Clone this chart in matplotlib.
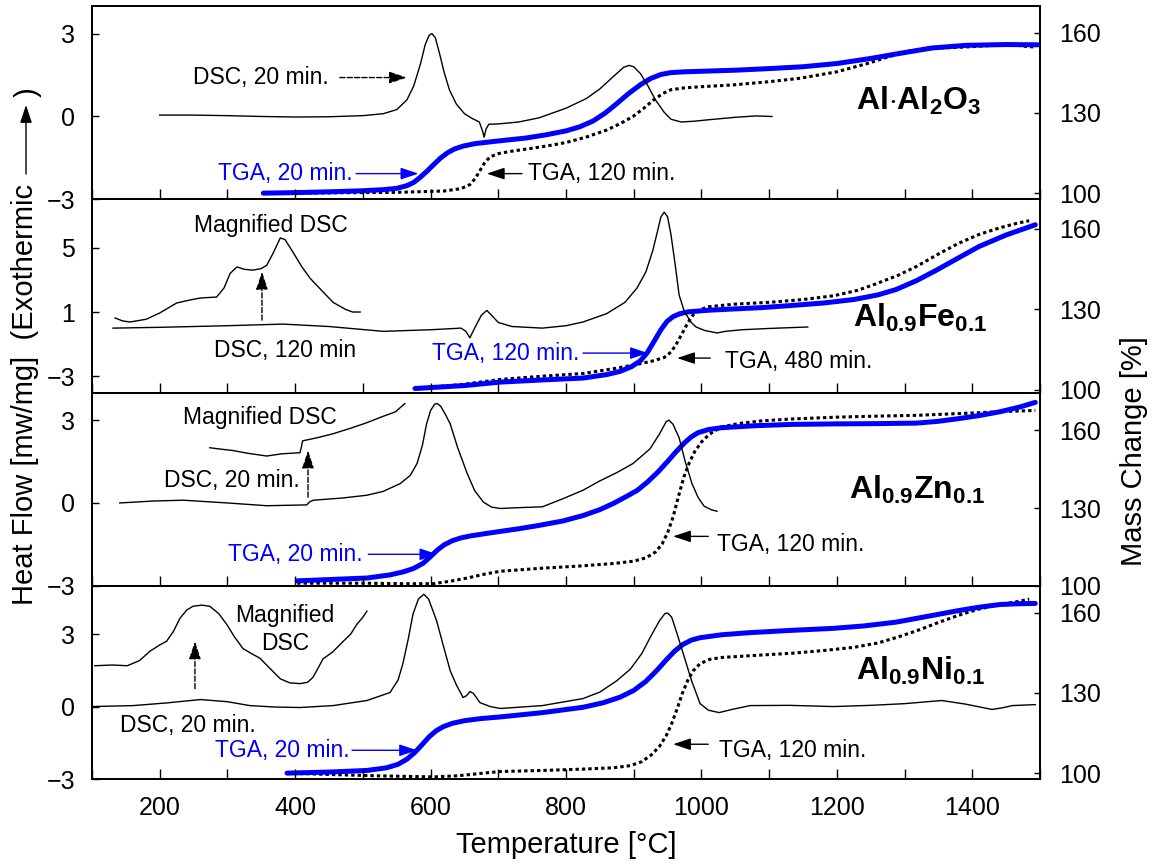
import matplotlib
matplotlib.use('Agg')
import matplotlib.pyplot as plt
from matplotlib.ticker import MultipleLocator

plt.rcParams['font.family'] = ['Liberation Sans', 'DejaVu Sans']
plt.rcParams['mathtext.fontset'] = 'custom'
plt.rcParams['mathtext.rm'] = 'Liberation Sans'
plt.rcParams['mathtext.bf'] = 'Liberation Sans:bold'

# ---- panel 1: Al.Al2O3 ----
t_dsc1 = [200, 250, 300, 350, 400, 450, 500, 530, 550, 565, 575, 585, 592, 598, 602, 607, 613, 620, 628,
          638, 650, 662, 672, 677, 679, 682, 686, 700, 730, 760, 800, 830, 850, 870, 885, 893, 900, 910,
          920, 932, 945, 955, 970, 990, 1010, 1050, 1080, 1104]
hf_dsc1 = [0.05, 0.05, 0.03, 0.0, -0.02, -0.01, 0.03, 0.1, 0.25, 0.6, 1.1, 1.9, 2.6, 2.95, 3.0, 2.85, 2.3,
           1.6, 0.95, 0.45, 0.1, -0.08, -0.2, -0.55, -0.75, -0.45, -0.28, -0.27, -0.2, -0.05, 0.3, 0.65,
           1.0, 1.45, 1.78, 1.85, 1.8, 1.55, 1.15, 0.6, 0.15, -0.1, -0.2, -0.17, -0.12, -0.03, 0.02, 0.0]
t_tga1a = [353, 400, 450, 500, 530, 550, 565, 575, 585, 595, 605, 615, 625, 635, 648, 665, 685, 710, 740,
           770, 800, 820, 840, 858, 875, 892, 910, 925, 940, 955, 975, 1000, 1050, 1100, 1150, 1200, 1250,
           1293, 1340, 1390, 1450, 1497]
m_tga1a = [100, 100.2, 100.5, 100.9, 101.3, 101.8, 102.8, 104, 106, 108.3, 110.8, 113.2, 115.1, 116.5,
           117.6, 118.5, 119.1, 119.8, 120.6, 121.8, 123.3, 124.8, 127.0, 130.0, 133.5, 137.2, 140.6,
           142.9, 144.4, 145.1, 145.4, 145.6, 146.0, 146.6, 147.3, 148.5, 150.4, 152.3, 154.3, 155.3,
           155.6, 155.5]
t_tga1b = [353, 450, 550, 620, 645, 658, 666, 673, 680, 688, 700, 720, 750, 780, 801, 830, 860, 880, 899,
           915, 929, 943, 955, 975, 998, 1047, 1100, 1146, 1200, 1245, 1280, 1308, 1350, 1392, 1430, 1456,
           1475, 1490]
m_tga1b = [99.9, 100.1, 100.3, 100.8, 101.7, 103.2, 105.5, 108.5, 111.5, 113.6, 114.8, 115.7, 116.8, 118,
           119, 121, 123.6, 126, 128.7, 131.8, 134.8, 137.3, 138.7, 139.4, 139.8, 140.5, 141.7, 143, 145.4,
           148.5, 151.3, 153.3, 154.3, 154.7, 155.3, 155.8, 155, 154.7]

# ---- panel 2: Al0.9Fe0.1 ----
t_dsc2 = [131, 200, 300, 382, 450, 530, 600, 645, 652, 658, 665, 675, 683, 690, 700, 720, 765, 800, 825,
          860, 887, 905, 918, 928, 935, 940, 945, 950, 955, 961, 967, 975, 985, 992, 1005, 1023, 1035,
          1060, 1100, 1157]
hf_dsc2 = [0.0, 0.05, 0.15, 0.25, 0.1, -0.2, -0.1, 0.0, -0.2, -0.6, 0.0, 0.8, 1.1, 0.8, 0.35, 0.1, 0.0,
           0.15, 0.38, 0.9, 1.6, 2.5, 3.5, 4.8, 6.0, 6.9, 7.2, 6.9, 5.8, 4.0, 2.05, 1.0, 0.35, 0.07, -0.15,
           -0.3, -0.2, -0.1, -0.02, 0.07]
t_mag2 = [134, 145, 156, 180, 200, 225, 245, 260, 284, 295, 304, 314, 325, 338, 350, 358, 368, 378, 385,
          397, 410, 422, 440, 456, 475, 485, 496]
hf_mag2 = [0.63, 0.45, 0.38, 0.55, 0.94, 1.56, 1.75, 1.87, 1.93, 2.5, 3.4, 3.8, 3.65, 3.6, 3.7, 3.9, 4.7,
           5.6, 5.5, 4.7, 3.8, 3.1, 2.3, 1.6, 1.15, 1.0, 1.0]
t_tga2a = [577, 650, 703, 765, 825, 860, 880, 897, 910, 920, 930, 940, 949, 958, 968, 980, 1010, 1041,
           1090, 1134, 1180, 1225, 1260, 1287, 1318, 1348, 1380, 1410, 1450, 1493]
m_tga2a = [100.4, 101.5, 102.8, 103.6, 104.3, 105.6, 106.8, 108.6, 110.8, 113.8, 118, 122.3, 125.4,
           127.2, 128.3, 129, 129.6, 130, 130.6, 131.4, 132.3, 133.6, 135.3, 137.3, 140.7, 144.7, 149.2,
           153.4, 157.7, 161.5]
t_tga2b = [577, 650, 703, 765, 825, 870, 905, 930, 945, 955, 963, 972, 980, 988, 998, 1010, 1050, 1103,
           1150, 1195, 1230, 1256, 1290, 1318, 1350, 1379, 1410, 1441, 1465, 1484]
m_tga2b = [100.4, 102, 103.8, 105, 106, 107.8, 109.4, 110.8, 112, 114, 117, 121.2, 125, 128, 129.8, 130.9,
           131.9, 132.6, 133.6, 135, 137, 139.3, 142.6, 146, 150.6, 154.5, 157.9, 160.4, 162, 163]

# ---- panel 3: Al0.9Zn0.1 ----
t_dsc3 = [141, 190, 235, 300, 358, 417, 422, 427, 470, 506, 530, 555, 570, 580, 588, 594, 600, 606, 610,
          615, 622, 629, 640, 654, 665, 678, 690, 703, 730, 765, 795, 825, 850, 875, 899, 924, 938, 948,
          952, 958, 967, 976, 986, 995, 1004, 1015, 1023]
hf_dsc3 = [0.0, 0.07, 0.1, 0.0, -0.1, -0.07, 0.05, 0.1, 0.18, 0.28, 0.42, 0.7, 1.0, 1.43, 2.1, 2.86, 3.35,
           3.58, 3.6, 3.5, 3.2, 2.86, 2.0, 1.07, 0.45, 0.03, -0.15, -0.2, -0.17, -0.14, 0.15, 0.46, 0.8,
           1.1, 1.43, 1.96, 2.5, 2.95, 3.0, 2.85, 2.36, 1.5, 0.7, 0.2, -0.12, -0.25, -0.3]
t_mag3 = [274, 290, 308, 330, 358, 380, 407, 409, 411, 432, 455, 481, 505, 530, 548, 562]
hf_mag3 = [2.0, 1.95, 1.9, 1.8, 1.7, 1.78, 1.82, 2.0, 2.25, 2.36, 2.5, 2.7, 2.9, 3.14, 3.3, 3.6]
t_tga3a = [403, 450, 506, 540, 560, 575, 589, 600, 610, 620, 632, 645, 660, 680, 703, 730, 760, 795, 825,
           850, 870, 890, 905, 920, 936, 950, 962, 975, 985, 995, 1010, 1029, 1080, 1134, 1200, 1260, 1318,
           1350, 1379, 1410, 1441, 1470, 1493]
m_tga3a = [101.9, 102.4, 103, 104.2, 105.4, 106.7, 108.7, 111.3, 113.8, 115.8, 117.4, 118.5, 119.3, 120.1,
           121, 122, 123.3, 125, 127.1, 129.4, 131.8, 134.6, 136.8, 140, 144, 148, 151.6, 155.2, 157.5,
           159.1, 160.3, 161, 161.8, 162.3, 162.5, 162.6, 162.8, 163.5, 164.5, 165.7, 167.2, 169, 170.8]
t_tga3b = [403, 500, 560, 604, 630, 654, 680, 703, 765, 825, 870, 900, 918, 932, 942, 950, 958, 966, 974,
           982, 990, 1000, 1012, 1030, 1054, 1090, 1134, 1200, 1260, 1318, 1400, 1450, 1493]
m_tga3b = [101, 101, 100.8, 100.8, 101.8, 103, 104.5, 105.6, 106.8, 107.7, 108.6, 109.5, 110.8, 113,
           116.2, 120.5, 126.5, 134.5, 142, 147.5, 151.8, 155.5, 158.6, 161.3, 162.6, 163.7, 164.4, 165.1,
           165.5, 165.8, 166.7, 167.3, 167.7]

# ---- panel 4: Al0.9Ni0.1 ----
t_dsc4 = [100, 161, 210, 260, 300, 333, 370, 407, 456, 506, 540, 552, 559, 567, 574, 582, 590, 597, 603,
          609, 618, 629, 638, 648, 653, 658, 663, 673, 688, 703, 765, 825, 850, 875, 895, 912, 925, 938,
          946, 950, 956, 963, 973, 985, 998, 1010, 1026, 1045, 1072, 1130, 1195, 1250, 1300, 1355, 1390,
          1429, 1445, 1459, 1493]
hf_dsc4 = [0.0, 0.04, 0.15, 0.29, 0.2, 0.04, -0.02, -0.04, 0.04, 0.25, 0.58, 1.1, 1.77, 2.8, 3.83, 4.45,
           4.65, 4.45, 4.0, 3.54, 2.6, 1.48, 0.9, 0.37, 0.45, 0.62, 0.55, 0.16, 0.0, -0.08, 0.04, 0.33,
           0.6, 1.07, 1.55, 2.2, 2.9, 3.55, 3.85, 3.87, 3.7, 3.1, 2.2, 1.1, 0.12, -0.15, -0.25, -0.12,
           0.04, 0.05, 0.0, 0.05, 0.12, 0.25, 0.1, -0.12, -0.05, 0.04, 0.08]
t_mag4 = [104, 130, 152, 170, 186, 200, 210, 220, 230, 240, 249, 262, 274, 287, 299, 310, 323, 335, 348,
          362, 378, 392, 407, 418, 426, 434, 441, 455, 471, 482, 491, 500, 506]
hf_mag4 = [1.69, 1.72, 1.69, 1.9, 2.3, 2.55, 2.7, 3.1, 3.66, 4.0, 4.15, 4.2, 4.15, 3.85, 3.4, 2.9, 2.4,
           2.2, 2.0, 1.6, 1.15, 0.98, 0.95, 1.0, 1.2, 1.6, 1.97, 2.25, 2.7, 3.0, 3.4, 3.7, 3.95]
t_tga4a = [388, 450, 506, 535, 552, 565, 577, 588, 598, 608, 619, 632, 650, 675, 703, 765, 825, 855, 880,
           900, 918, 933, 948, 960, 972, 985, 998, 1030, 1072, 1130, 1195, 1240, 1287, 1330, 1379, 1410,
           1441, 1470, 1493]
m_tga4a = [100, 100.4, 101, 102, 103.3, 105.2, 107.8, 110.8, 113.6, 115.8, 117.4, 118.6, 119.6, 120.4,
           121, 122.6, 124.6, 126.3, 128.4, 130.9, 134.3, 138.1, 142.3, 145.5, 148, 149.7, 150.6, 151.7,
           152.5, 153.3, 154.1, 155, 156.4, 158.4, 160.7, 162, 163, 163.3, 163.4]
t_tga4b = [388, 450, 520, 604, 640, 678, 703, 765, 825, 870, 895, 912, 926, 938, 948, 956, 964, 972, 980,
           988, 998, 1012, 1029, 1080, 1134, 1180, 1225, 1260, 1287, 1318, 1348, 1380, 1410, 1441, 1465,
           1484]
m_tga4b = [100, 99.5, 99, 98.6, 99, 100, 100.6, 101, 101.5, 102, 102.8, 104.3, 106.8, 110, 114, 118.5,
           124, 130, 134.8, 138.3, 140.9, 142.5, 143.2, 144, 144.8, 145.8, 147, 148.6, 150.6, 153.2, 156.1,
           159, 161.3, 163, 164, 165]

names = [r'$\mathbf{Al{\cdot}Al_2O_3}$', r'$\mathbf{Al_{0.9}Fe_{0.1}}$',
         r'$\mathbf{Al_{0.9}Zn_{0.1}}$', r'$\mathbf{Al_{0.9}Ni_{0.1}}$']
hf_lims = [(-3, 4), (-4, 8), (-3, 4), (-3, 5)]
hf_ticks = [[-3, 0, 3], [-3, 1, 5], [-3, 0, 3], [-3, 0, 3]]
m_lims = [(97.7, 170), (98.9, 171), (100, 174.6), (97.8, 170)]
m_ticks = [100, 130, 160]

fig, axes = plt.subplots(4, 1, figsize=(11.56, 8.65), dpi=100, sharex=True)
fig.subplots_adjust(left=0.0796, right=0.8997, top=0.993, bottom=0.0994, hspace=0)

dsc = [(t_dsc1, hf_dsc1), (t_dsc2, hf_dsc2), (t_dsc3, hf_dsc3), (t_dsc4, hf_dsc4)]
mag = [None, (t_mag2, hf_mag2), (t_mag3, hf_mag3), (t_mag4, hf_mag4)]
tga_a = [(t_tga1a, m_tga1a), (t_tga2a, m_tga2a), (t_tga3a, m_tga3a), (t_tga4a, m_tga4a)]
tga_b = [(t_tga1b, m_tga1b), (t_tga2b, m_tga2b), (t_tga3b, m_tga3b), (t_tga4b, m_tga4b)]

FS = 16.5
BLUE = '#0000ff'


def txt(ax, x, y, s, ha='left', color='black', **kw):
    ax.text(x, y, s, ha=ha, va='center', color=color, fontsize=FS, **kw)


def arrow(ax, x0, y0, x1, y1, color='black', ls='-', coords='data'):
    ax.annotate('', xy=(x1, y1), xytext=(x0, y0), xycoords=coords, textcoords=coords,
                annotation_clip=False,
                arrowprops=dict(arrowstyle='-|>,head_length=0.9,head_width=0.3', mutation_scale=12,
                                color=color, lw=1, linestyle=ls, shrinkA=0, shrinkB=0))


for i, ax in enumerate(axes):
    tx = ax.twinx()
    tx.plot(*tga_b[i], color='black', lw=2.2, ls=(0, (1.1, 1.0)))
    tx.plot(*tga_a[i], color=BLUE, lw=3.6, solid_capstyle='round', solid_joinstyle='round')
    ax.plot(*dsc[i], color='black', lw=1.0)
    if mag[i]:
        ax.plot(*mag[i], color='black', lw=1.0)
    ax.set_zorder(tx.get_zorder() + 1)
    ax.patch.set_visible(False)

    ax.set_xlim(100, 1500)
    ax.set_ylim(*hf_lims[i])
    ax.set_yticks(hf_ticks[i])
    tx.set_ylim(*m_lims[i])
    tx.set_yticks(m_ticks)
    ax.xaxis.set_major_locator(MultipleLocator(200))
    ax.xaxis.set_minor_locator(MultipleLocator(100))
    ax.tick_params(axis='x', which='both', direction='in', length=7, width=1, labelsize=18, pad=12)
    ax.tick_params(axis='y', direction='in', length=5, width=1, labelsize=18, pad=12)
    tx.tick_params(axis='y', direction='in', length=4, width=1, labelsize=18, pad=14)
    for sp in list(ax.spines.values()) + list(tx.spines.values()):
        sp.set_linewidth(1.3)

    ax.text([1320, 1323, 1318, 1324][i], [0.58, 0.63, 0.46, 1.48][i], names[i],
            ha='center', va='center', fontsize=23)

a1, a2, a3, a4 = axes
txt(a1, 449, 1.41, 'DSC, 20 min.', ha='right')
arrow(a1, 466, 1.41, 565, 1.41, ls='--')
txt(a1, 485, -2.07, 'TGA, 20 min.', ha='right', color=BLUE)
arrow(a1, 490, -2.07, 582, -2.07, color=BLUE)
txt(a1, 744, -2.07, 'TGA, 120 min.')
arrow(a1, 735, -2.07, 683, -2.07)

txt(a2, 364, 6.4, 'Magnified DSC', ha='center')
arrow(a2, 351, 0.5, 351, 3.5, ls='--')
txt(a2, 385, -1.36, 'DSC, 120 min', ha='center')
txt(a2, 819, -1.55, 'TGA, 120 min.', ha='right', color=BLUE)
arrow(a2, 825, -1.55, 921, -1.55, color=BLUE)
txt(a2, 1035, -2.1, 'TGA, 480 min.')
arrow(a2, 1013, -1.86, 964, -1.86)

txt(a3, 348, 3.1, 'Magnified DSC', ha='center')
txt(a3, 407, 0.82, 'DSC, 20 min.', ha='right')
arrow(a3, 419, 0.21, 419, 1.9, ls='--')
txt(a3, 500, -1.86, 'TGA, 20 min.', ha='right', color=BLUE)
arrow(a3, 508, -1.86, 610, -1.86, color=BLUE)
txt(a3, 1023, -1.5, 'TGA, 120 min.')
arrow(a3, 1010, -1.21, 958, -1.21)

txt(a4, 385, 3.2, 'Magnified\nDSC', ha='center', linespacing=1.3)
arrow(a4, 252, 0.74, 252, 2.7, ls='--')
txt(a4, 242, -0.78, 'DSC, 20 min.', ha='center')
txt(a4, 481, -1.81, 'TGA, 20 min.', ha='right', color=BLUE)
arrow(a4, 484, -1.81, 580, -1.81, color=BLUE)
txt(a4, 1026, -1.81, 'TGA, 120 min.')
arrow(a4, 1010, -1.56, 958, -1.56)

a4.set_xlabel('Temperature [\u00b0C]', fontsize=21, labelpad=8)

# left label: text, long arrow, closing bracket
fig.text(0.022, 1 - 605 / 865, 'Heat Flow [mw/mg]  (Exothermic', rotation=90,
         ha='center', va='bottom', fontsize=21)
arrow(a1, 0.0225, 1 - 174 / 865, 0.0225, 1 - 105 / 865, coords='figure fraction')
fig.text(0.024, 1 - 92 / 865, ')', rotation=90, ha='center', va='center', fontsize=21)
fig.text(0.981, 0.479, 'Mass Change [%]', rotation=90, ha='center', va='center', fontsize=21)

fig.savefig('out.png', dpi=100)
